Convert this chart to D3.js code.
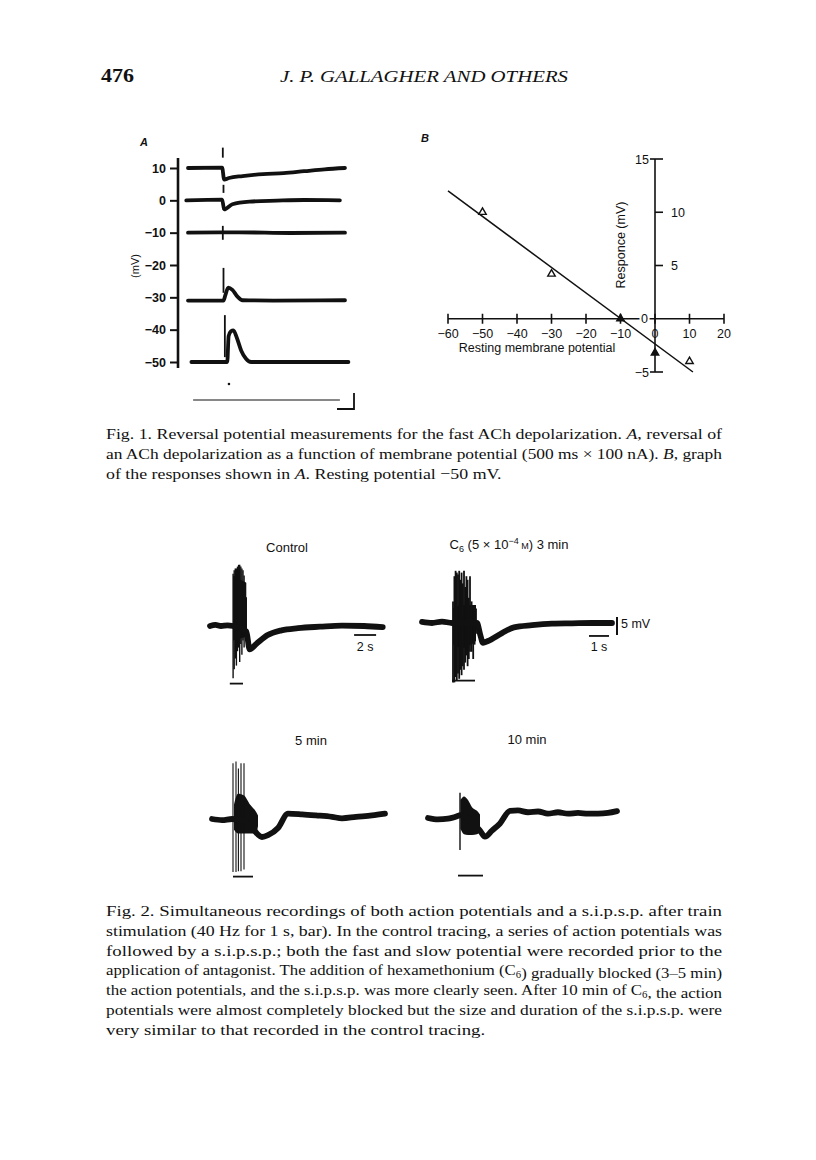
<!DOCTYPE html>
<html lang="en">
<head>
<meta charset="UTF-8">
<title>Gallagher et al. p. 476 - Fig. 1 and Fig. 2</title>
<script src="https://d3js.org/d3.v7.min.js"></script>
<style>
  body { margin: 0; background: #fff; }
  svg { display: block; }
  .sans { font-family: "Liberation Sans", Arial, sans-serif; fill: #111; }
  .serif { font-family: "Liberation Serif", "Times New Roman", serif; fill: #111; }
  .trace { fill: none; stroke: #111; stroke-linejoin: round; stroke-linecap: round; }
</style>
</head>
<body>
<svg id="page" width="816" height="1160"></svg>
<script>
// ---------- Fig. 1A : traces at each holding potential ----------
const aTicks = [10, 0, -10, -20, -30, -40, -50]
const aLevels = [10, 0, -10, -31, -50]
// [time ms, deflection mV] read from the recordings
const aTraces = [
    [[0, 0], [1000, 0.1], [1060, -3.6], [1200, -3.1], [1600, -2.5], [2200, -1.9], [2800, -1.6], [3400, -1.0], [4000, -0.4], [4600, 0]],
    [[-50, 0], [1000, 0.2], [1060, -2.8], [1300, -1.2], [1800, -0.4], [2600, -0.1], [3400, 0.1], [4450, 0]],
    [[0, 0], [1500, 0.1], [3000, -0.1], [4600, 0]],
    [[0, 0], [1040, 0], [1090, 1.5], [1180, 4.0], [1300, 3.3], [1450, 1.2], [1600, 0.1], [2500, 0], [4600, 0.1]],
    [[100, 0], [1150, 0], [1190, 8], [1260, 9.5], [1330, 9.8], [1430, 7.5], [1560, 3.5], [1700, 1.0], [1850, 0], [4700, 0]]
]
// stimulus artefact marks [time ms, top mV, bottom mV]
const aStimMarks = [[1020, 16.3, 13.2], [1040, 4.8, 2.3], [1040, -0.8, -3], [1020, -7.9, -12.2], [1040, -20.9, -28.6], [1080, -35.5, -48.5]]

// ---------- Fig. 1B : reversal plot ----------
const bXTicks = [-60, -50, -40, -30, -20, -10, 0, 10, 20]
const bYTicks = [15, 10, 5, 0, -5]
const bPotential = [-50, -30, -10, 0, 10]
const bResponse = [10, 4.2, 0, -3.2, -4]
const bFilled = [false, false, true, true, false]
const bFit = [[-60, 12], [11, -5]]

// ---------- Fig. 2 : recordings, [s, mV] ----------
const ctlSlow = [[0, 0], [0.5, 0.3], [1, 0], [1.6, 0.2], [2.1, 0], [3.3, -1.5], [3.6, -6.5], [4.2, -5], [5.2, -2.6], [6.5, -1.2], [8, -0.6], [10, -0.2], [12, 0.1], [14, 0], [15.7, -0.3]]
const ctlSpikes = [[2.10, 14.5, -14.5], [2.20, 15.5, -12], [2.30, 16, -9], [2.40, 16, -11], [2.50, 16.5, -7], [2.60, 17, -6], [2.70, 17, -10], [2.80, 16.5, -5], [2.90, 16, -8], [3.00, 15.5, -4], [3.10, 14, -6], [3.20, 12, -3], [3.30, 8, -2]]
const ctlCore = [[2.1, 14, -4], [3.3, 12, -3]]

const c6Slow = [[0, 0.3], [0.5, 0], [1, 0.4], [1.5, 0], [2.75, 0], [2.9, -3], [3.05, -5.5], [3.3, -5], [4, -2.8], [4.6, -1.2], [5.5, -0.6], [6.5, -0.2], [7.5, -0.1], [8.5, 0], [9.5, 0]]
const c6Spikes = [[1.55, 6, -16.5], [1.62, 13, -16.5], [1.68, 14.5, -15], [1.74, 14, -16], [1.80, 13.5, -14], [1.86, 14.5, -15.5], [1.92, 12, -13], [1.98, 14, -14.5], [2.04, 11, -12], [2.10, 14.5, -13], [2.16, 10, -11], [2.22, 13, -9], [2.28, 12, -12], [2.34, 7, -10], [2.40, 13, -8], [2.48, 6, -8], [2.56, 5, -10], [2.63, 5, -6], [2.70, 4, -3]]
const c6Core = [[1.55, 4, -6], [2.0, 5, -7], [2.7, 5, -5]]

const m5Slow = [[0, 0], [0.5, -0.3], [1.0, 0], [1.6, -0.5], [2.0, -2.5], [2.5, -5], [2.8, -4.5], [3.3, -2.5], [3.8, 1.5], [4.5, 1.3], [5.2, 1], [6, 0.6], [6.5, 0.2], [7.2, 0.6], [8, 1], [8.65, 1.5]]
const m5Spikes = [[1.05, 15.5, -14.7], [1.2, 16, -14.7], [1.32, 14, -14.5], [1.45, 15.5, -14.5], [1.6, 15.5, -14]]
const m5Core = [[1.1, 4, -3], [1.3, 7, -4], [1.6, 6.5, -4], [1.9, 4, -4], [2.2, 2, -4], [2.3, 1, -2]]

const m10Slow = [[0, 0], [0.5, -0.4], [1, -0.2], [1.5, 0.6], [1.6, 0.8], [2.6, -3.5], [2.85, -5.2], [3.2, -3.5], [3.6, -1.5], [4.1, 2], [4.5, 2.1], [5, 1.6], [5.5, 1.8], [6, 1.2], [6.5, 1.6], [7, 1.2], [7.5, 1.4], [8, 1.2], [8.5, 1.2], [9.0, 1.4], [9.45, 1.9]]
const m10Spikes = [[1.6, 7, -8.9]]
const m10Core = [[1.62, 5, -3], [1.8, 6, -4.5], [2.0, 5, -4.7], [2.2, 3, -4.7], [2.45, 2, -4.5], [2.6, 1, -4]]

// stimulation bars [start s, end s]
const stimBars = [[1.8, 3.0], [1.5, 2.65], [1.05, 2.05], [1.5, 2.75]]

// ---------- captions ----------
const fig1Caption = [
    "Fig. 1. Reversal potential measurements for the fast ACh depolarization. *A*, reversal of",
    "an ACh depolarization as a function of membrane potential (500 ms × 100 nA). *B*, graph",
    "of the responses shown in *A*. Resting potential −50 mV."
]
const fig2Caption = [
    "Fig. 2. Simultaneous recordings of both action potentials and a s.i.p.s.p. after train",
    "stimulation (40 Hz for 1 s, bar). In the control tracing, a series of action potentials was",
    "followed by a s.i.p.s.p.; both the fast and slow potential were recorded prior to the",
    "application of antagonist. The addition of hexamethonium (C_6_) gradually blocked (3–5 min)",
    "the action potentials, and the s.i.p.s.p. was more clearly seen. After 10 min of C_6_, the action",
    "potentials were almost completely blocked but the size and duration of the s.i.p.s.p. were",
    "very similar to that recorded in the control tracing."
]

const svg = d3.select("#page")

// page header
svg.append("text").attr("class", "serif").attr("x", 101).attr("y", 82)
    .attr("font-size", 18).attr("font-weight", "bold")
    .attr("textLength", 33).attr("lengthAdjust", "spacingAndGlyphs").text("476")
svg.append("text").attr("class", "serif").attr("x", 280).attr("y", 82)
    .attr("font-size", 17).attr("font-style", "italic")
    .attr("textLength", 288).attr("lengthAdjust", "spacingAndGlyphs")
    .text("J. P. GALLAGHER AND OTHERS")

// ===== Fig 1 A =====
const yA = d3.scaleLinear().domain([-50, 10]).range([362, 168])
const tA = d3.scaleLinear().domain([0, 4600]).range([188, 345])
const gA = svg.append("g")

gA.append("text").attr("class", "sans").attr("x", 140).attr("y", 146)
    .attr("font-size", 11).attr("font-style", "italic").attr("font-weight", "bold").text("A")

const axA = gA.append("g").attr("transform", "translate(178,0)")
    .call(d3.axisLeft(yA).tickValues(aTicks).tickSize(8).tickPadding(4))
axA.select(".domain").remove()
axA.selectAll(".tick line").attr("stroke", "#111").attr("stroke-width", 2)
axA.selectAll(".tick text").attr("class", "sans").attr("font-size", 12.5).attr("font-weight", "bold")
    .attr("font-family", "Liberation Sans, Arial, sans-serif").attr("fill", "#111")
gA.append("line").attr("x1", 178).attr("x2", 178).attr("y1", 158).attr("y2", 368)
    .attr("stroke", "#111").attr("stroke-width", 2.6)

gA.append("text").attr("class", "sans").attr("font-size", 11)
    .attr("transform", "translate(139,266) rotate(-90)").attr("text-anchor", "middle").text("(mV)")

aTraces.forEach(function (tr, i) {
    let line = d3.line()
        .x(d => tA(d[0]))
        .y(d => yA(aLevels[i] + d[1]))
        .curve(d3.curveMonotoneX)
    gA.append("path").attr("class", "trace").attr("stroke-width", 3.8).attr("d", line(tr))
})

gA.selectAll(".stim").data(aStimMarks).enter().append("line")
    .attr("x1", d => tA(d[0])).attr("x2", d => tA(d[0]))
    .attr("y1", d => yA(d[1])).attr("y2", d => yA(d[2]))
    .attr("stroke", "#111").attr("stroke-width", 1.8)

// current monitor and calibration
gA.append("circle").attr("cx", tA(1200)).attr("cy", 384).attr("r", 1.3).attr("fill", "#111")
gA.append("line").attr("x1", tA(150)).attr("x2", tA(4450)).attr("y1", 400).attr("y2", 400)
    .attr("stroke", "#111").attr("stroke-width", 1.2)
gA.append("path").attr("d", "M337,409H354V393").attr("fill", "none")
    .attr("stroke", "#111").attr("stroke-width", 1.8)

// ===== Fig 1 B =====
const xB = d3.scaleLinear().domain([-60, 20]).range([448, 724])
const yB = d3.scaleLinear().domain([-5, 15]).range([372, 159])
const gB = svg.append("g")

gB.append("text").attr("class", "sans").attr("x", 421).attr("y", 142)
    .attr("font-size", 11).attr("font-style", "italic").attr("font-weight", "bold").text("B")

gB.append("line").attr("x1", xB(-60)).attr("x2", xB(20)).attr("y1", yB(0)).attr("y2", yB(0))
    .attr("stroke", "#111").attr("stroke-width", 1.6)
gB.append("line").attr("x1", xB(0)).attr("x2", xB(0)).attr("y1", yB(15)).attr("y2", yB(-5))
    .attr("stroke", "#111").attr("stroke-width", 1.6)

gB.selectAll(".xt").data(bXTicks).enter().append("line")
    .attr("x1", d => xB(d)).attr("x2", d => xB(d))
    .attr("y1", yB(0) - 5).attr("y2", yB(0) + 5)
    .attr("stroke", "#111").attr("stroke-width", 1.6)
gB.selectAll(".xl").data(bXTicks).enter().append("text")
    .attr("class", "sans").attr("font-size", 12.5).attr("text-anchor", "middle")
    .attr("x", d => xB(d)).attr("y", yB(0) + 19)
    .text(d => d3.format("")(d))

gB.selectAll(".yt").data(bYTicks).enter().append("line")
    .attr("x1", d => (d === 15 || d === -5) ? xB(0) - 5 : xB(0))
    .attr("x2", d => d === 0 ? xB(0) : xB(0) + 8)
    .attr("y1", d => yB(d)).attr("y2", d => yB(d))
    .attr("stroke", "#111").attr("stroke-width", 1.6)
gB.selectAll(".yl").data(bYTicks).enter().append("text")
    .attr("class", "sans").attr("font-size", 12.5)
    .attr("text-anchor", d => (d === 10 || d === 5) ? "start" : "end")
    .attr("x", d => (d === 10 || d === 5) ? xB(0) + 16 : (d === 0 ? xB(0) - 7 : xB(0) - 6))
    .attr("y", d => yB(d) + 4.5)
    .attr("stroke", d => d === 0 ? "#fff" : "none").attr("stroke-width", 4)
    .attr("paint-order", "stroke")
    .text(d => d3.format("")(d))

gB.append("text").attr("class", "sans").attr("font-size", 12.5).attr("text-anchor", "middle")
    .attr("x", 537).attr("y", 352).text("Resting membrane potential")
gB.append("text").attr("class", "sans").attr("font-size", 12.5).attr("text-anchor", "middle")
    .attr("transform", "translate(625,245) rotate(-90)").text("Responce (mV)")

gB.append("path").attr("fill", "none").attr("stroke", "#111").attr("stroke-width", 1.5)
    .attr("d", d3.line().x(d => xB(d[0])).y(d => yB(d[1]))(bFit))

const tri = d3.symbol().type(d3.symbolTriangle).size(24)
gB.selectAll(".pt").data(bPotential).enter().append("path")
    .attr("d", tri)
    .attr("transform", (d, i) => `translate(${xB(d)},${yB(bResponse[i])})`)
    .attr("fill", (d, i) => bFilled[i] ? "#111" : "#fff")
    .attr("stroke", "#111").attr("stroke-width", 1.4)

// ===== Fig 2 =====
function recording(cfg) {
    let g = svg.append("g")
    let x = d3.scaleLinear().domain([0, 1]).range([cfg.x0, cfg.x0 + cfg.pxPerS])
    let y = d3.scaleLinear().domain([-20, 20]).range([cfg.base + 72, cfg.base - 72])
    g.append("path").attr("fill", "#111")
        .attr("d", d3.area().x(d => x(d[0])).y0(d => y(d[2])).y1(d => y(d[1])).curve(d3.curveMonotoneX)(cfg.core))
    g.selectAll(".sp").data(cfg.spikes).enter().append("line")
        .attr("x1", d => x(d[0])).attr("x2", d => x(d[0]))
        .attr("y1", d => y(d[1])).attr("y2", d => y(d[2]))
        .attr("stroke", "#111").attr("stroke-width", cfg.spikeW || 1.4)
    g.append("path").attr("class", "trace").attr("stroke-width", 5.8)
        .attr("d", d3.line().x(d => x(d[0])).y(d => y(d[1])).curve(d3.curveMonotoneX)(cfg.slow))
    g.append("line").attr("x1", x(cfg.stim[0])).attr("x2", x(cfg.stim[1]))
        .attr("y1", y(-16)).attr("y2", y(-16)).attr("stroke", "#111").attr("stroke-width", 1.8)
    g.append("text").attr("class", "sans").attr("font-size", 13).attr("text-anchor", "middle")
        .attr("x", cfg.labelX).attr("y", cfg.base - 74).call(cfg.label)
    return { g: g, x: x, y: y }
}

const ctl = recording({
    x0: 210, pxPerS: 11, base: 626, slow: ctlSlow, spikes: ctlSpikes, core: ctlCore, stim: stimBars[0],
    labelX: 287, label: t => t.text("Control")
})
ctl.g.append("line").attr("x1", ctl.x(13.1)).attr("x2", ctl.x(15.1))
    .attr("y1", ctl.y(-2.5)).attr("y2", ctl.y(-2.5)).attr("stroke", "#111").attr("stroke-width", 1.8)
ctl.g.append("text").attr("class", "sans").attr("font-size", 12.5).attr("text-anchor", "middle")
    .attr("x", ctl.x(14.1)).attr("y", ctl.y(-2.5) + 16).text("2 s")

const c6 = recording({
    x0: 422, pxPerS: 20, base: 623, slow: c6Slow, spikes: c6Spikes, core: c6Core, stim: stimBars[1],
    spikeW: 1.8, labelX: 509, label: function (t) {
        t.append("tspan").text("C")
        t.append("tspan").attr("font-size", 9).attr("dy", 3).text("6")
        t.append("tspan").attr("dy", -3).text(" (5 × 10")
        t.append("tspan").attr("font-size", 9).attr("dy", -5).text("−4")
        t.append("tspan").attr("font-size", 9).attr("dy", 5).text(" M")
        t.append("tspan").text(") 3 min")
    }
})
c6.g.append("line").attr("x1", c6.x(8.35)).attr("x2", c6.x(9.35))
    .attr("y1", c6.y(-3.6)).attr("y2", c6.y(-3.6)).attr("stroke", "#111").attr("stroke-width", 1.8)
c6.g.append("text").attr("class", "sans").attr("font-size", 12.5).attr("text-anchor", "middle")
    .attr("x", c6.x(8.85)).attr("y", c6.y(-3.6) + 15).text("1 s")
c6.g.append("line").attr("x1", c6.x(9.75)).attr("x2", c6.x(9.75))
    .attr("y1", c6.y(1.7)).attr("y2", c6.y(-3.3)).attr("stroke", "#111").attr("stroke-width", 2)
c6.g.append("text").attr("class", "sans").attr("font-size", 12.5)
    .attr("x", c6.x(9.75) + 4).attr("y", c6.y(-1.3)).text("5 mV")

recording({
    x0: 212, pxPerS: 20, base: 819, slow: m5Slow, spikes: m5Spikes, core: m5Core, stim: stimBars[2],
    spikeW: 1.1, labelX: 311, label: t => t.text("5 min")
})
recording({
    x0: 428, pxPerS: 20, base: 818, slow: m10Slow, spikes: m10Spikes, core: m10Core, stim: stimBars[3],
    labelX: 527, label: t => t.text("10 min")
})

// ===== captions =====
// the printed face is wider than Times, so every line is stretched by the
// factor that makes the first line fill the 616px measure; inner lines are justified
function caption(lines, top) {
    let k = 1
    lines.forEach(function (ln, i) {
        let t = svg.append("text").attr("class", "serif").attr("font-size", 15.5)
            .attr("x", 106).attr("y", top + i * 19.8)
        ln.split(/(\*[^*]+\*|_[^_]+_)/).forEach(function (seg) {
            if (!seg) return
            if (seg[0] === "*") t.append("tspan").attr("font-style", "italic").text(seg.slice(1, -1))
            else if (seg[0] === "_") {
                t.append("tspan").attr("font-size", 10).attr("dy", 3).text(seg.slice(1, -1))
                t.append("tspan").attr("dy", -3).text("")
            }
            else t.append("tspan").text(seg)
        })
        let natural = t.node().getComputedTextLength()
        if (i === 0) k = 616 / natural
        let len = i < lines.length - 1 ? 616 : natural * k
        t.attr("textLength", len).attr("lengthAdjust", "spacingAndGlyphs")
    })
}
caption(fig1Caption, 439)
caption(fig2Caption, 916)
</script>
</body>
</html>
